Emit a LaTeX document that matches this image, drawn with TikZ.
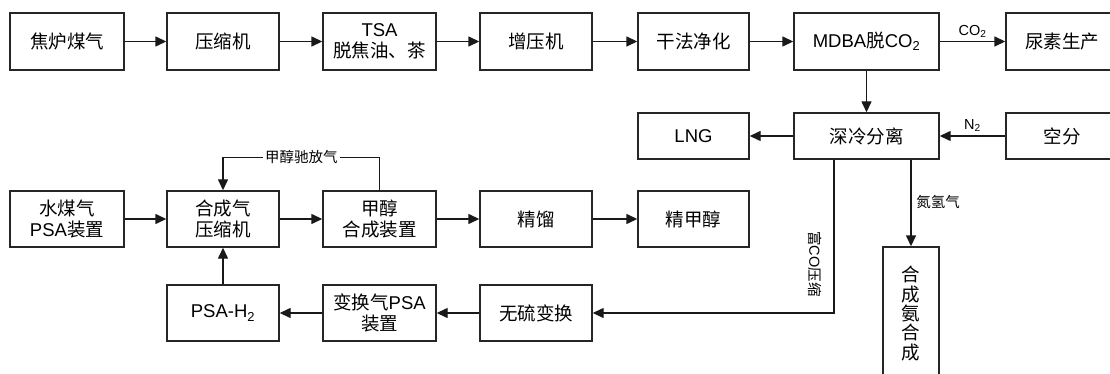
\documentclass[tikz,border=0pt]{standalone}
\usepackage{fontspec}
\setmainfont{Noto Sans CJK SC}
\newfontfamily\ltnfont{Liberation Sans}
\newcommand\ltn[1]{{\ltnfont #1}}
\usetikzlibrary{arrows.meta}
\tikzset{
 blk/.style={draw=black!85, line width=1.4pt, inner sep=0pt, align=center, text=black, font=\fontsize{18.5}{20.5}\selectfont},
 lbl/.style={font=\fontsize{14.5}{16}\selectfont, inner sep=1pt, text=black},
 arr/.style={draw=black!90, line width=1.4pt, -{Triangle[length=11pt,width=10pt]}},
}
\begin{document}
\begin{tikzpicture}[x=1pt,y=-1pt]
\useasboundingbox (0,0) rectangle (1110,374);
\fill[white] (0,0) rectangle (1110,374);
\clip (0,0) rectangle (1110,374);
% row 1
\node[blk, minimum width=114pt, minimum height=57pt] (coke) at (67,41.5) {焦炉煤气};
\node[blk, minimum width=112pt, minimum height=57pt] (comp1) at (223,41.5) {压缩机};
\node[blk, minimum width=113pt, minimum height=57pt] (tsa) at (379.5,41.5) {\ltn{TSA}\\脱焦油、茶};
\node[blk, minimum width=112pt, minimum height=57pt] (boost) at (536,41.5) {增压机};
\node[blk, minimum width=111pt, minimum height=57pt] (dry) at (693.5,41.5) {干法净化};
\node[blk, minimum width=145pt, minimum height=57pt] (mdba) at (866.5,41.5) {\ltn{MDBA}脱\ltn{CO\textsubscript{2}}};
\node[blk, minimum width=112pt, minimum height=57pt] (urea) at (1062,41.5) {尿素生产};
% row 2
\node[blk, minimum width=111pt, minimum height=46pt] (lng) at (693.5,136) {\ltn{LNG}};
\node[blk, minimum width=145pt, minimum height=46pt] (cryo) at (866.5,136) {深冷分离};
\node[blk, minimum width=112pt, minimum height=46pt] (air) at (1062,136) {空分};
% row 3
\node[blk, minimum width=114pt, minimum height=56pt] (water) at (67,219) {水煤气\\\ltn{PSA}装置};
\node[blk, minimum width=112pt, minimum height=56pt] (syn) at (223,219) {合成气\\压缩机};
\node[blk, minimum width=113pt, minimum height=56pt] (meoh) at (379.5,219) {甲醇\\合成装置};
\node[blk, minimum width=112pt, minimum height=56pt] (dist) at (536,219) {精馏};
\node[blk, minimum width=111pt, minimum height=56pt] (pure) at (693.5,219) {精甲醇};
% row 4
\node[blk, minimum width=112pt, minimum height=56pt] (psah) at (223,313) {\ltn{PSA-H\textsubscript{2}}};
\node[blk, minimum width=113pt, minimum height=56pt] (shpsa) at (379.5,313) {变换气\ltn{PSA}\\装置};
\node[blk, minimum width=112pt, minimum height=56pt] (shift) at (536,313) {无硫变换};
\node[blk, minimum width=56pt, minimum height=140pt] (nh3) at (911,317) {};
\node[blk, draw=none, font=\fontsize{18.5}{19.3}\selectfont] (nh3t) at (911,313.5) {合\\成\\氨\\合\\成};
% connectors row 1
\draw[arr] (coke.east) -- (comp1.west);
\draw[arr] (comp1.east) -- (tsa.west);
\draw[arr] (tsa.east) -- (boost.west);
\draw[arr] (boost.east) -- (dry.west);
\draw[arr] (dry.east) -- (mdba.west);
\draw[arr] (mdba.east) -- node[lbl, above=2pt] (co2) {\ltn{CO\textsubscript{2}}} (urea.west);
\draw[arr] (mdba.south) -- (cryo.north);
% row 2
\draw[arr] (air.west) -- node[lbl, above=3pt] (n2) {\ltn{N\textsubscript{2}}} (cryo.east);
\draw[arr] (cryo.west) -- (lng.east);
% row 3
\draw[arr] (water.east) -- (syn.west);
\draw[arr] (syn.east) -- (meoh.west);
\draw[arr] (meoh.east) -- (dist.west);
\draw[arr] (dist.east) -- (pure.west);
\draw[arr] (meoh.north) -- ++(0,-33) -| node[lbl, fill=white, pos=0.25, inner xsep=2pt] (purge) {甲醇驰放气} (syn.north);
% row 4
\draw[arr] (shift.west) -- (shpsa.east);
\draw[arr] (shpsa.west) -- (psah.east);
\draw[arr] (psah.north) -- (syn.south);
\draw[arr] ([xshift=-32.5pt]cryo.south) |- (shift.east);
\node[lbl, rotate=-90] (fco) at (815,264) {富\ltn{CO}压缩};
\draw[arr] (cryo.south -| nh3.north) -- (nh3.north);
\node[lbl] (nhlbl) at (938,202) {氮氢气};
\end{tikzpicture}
\end{document}
